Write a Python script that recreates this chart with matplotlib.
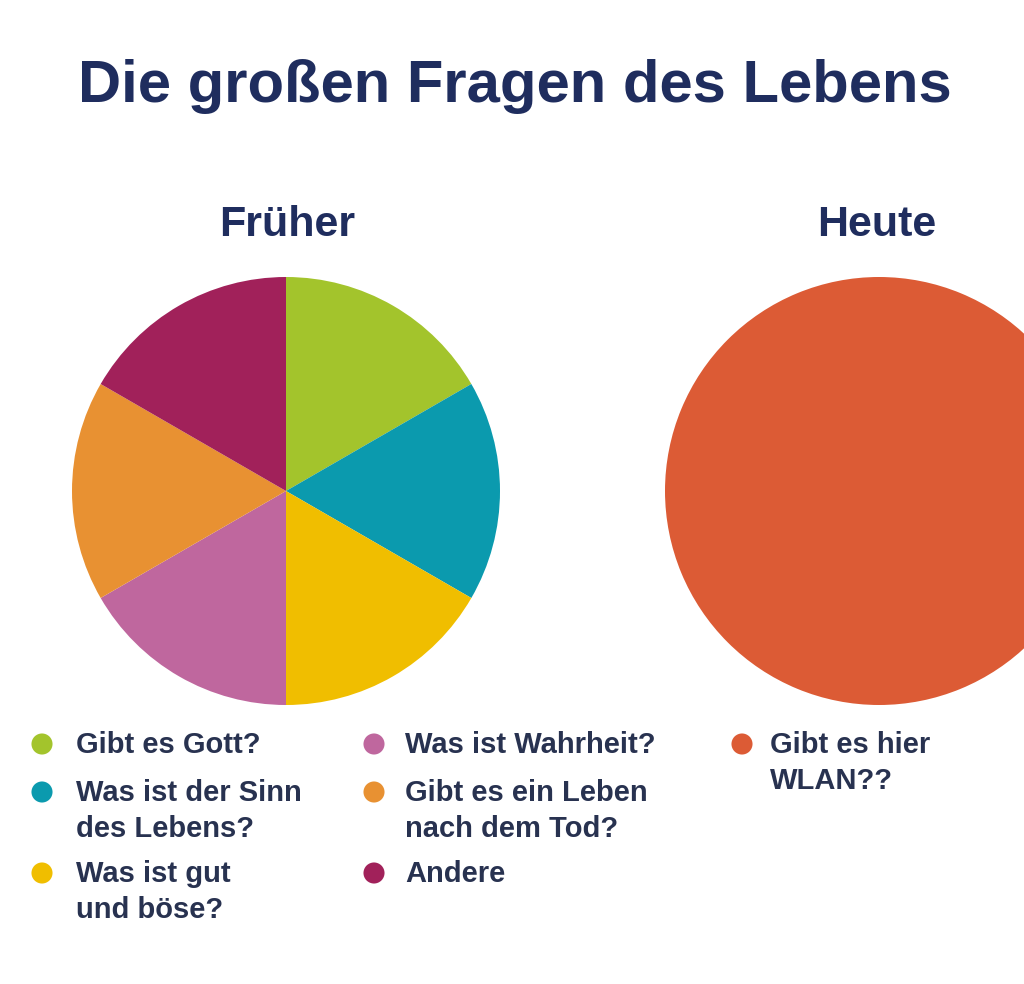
import matplotlib
matplotlib.use("Agg")
import matplotlib.pyplot as plt

plt.rcParams['font.family'] = ['Liberation Sans', 'DejaVu Sans']

# --- Daten ---
titel = "Die großen Fragen des Lebens"
frueher_labels = ["Gibt es Gott?", "Was ist der Sinn\ndes Lebens?", "Was ist gut\nund böse?",
                  "Was ist Wahrheit?", "Gibt es ein Leben\nnach dem Tod?", "Andere"]
frueher_werte = [1, 1, 1, 1, 1, 1]
frueher_farben = ["#A3C42C", "#0B9AAE", "#F0BE00", "#BF679E", "#E89132", "#A1215A"]

heute_labels = ["Gibt es hier\nWLAN??"]
heute_werte = [1]
heute_farben = ["#DC5B35"]

navy = "#1F2D5E"
text_farbe = "#283250"

W, H = 1024, 984
fig = plt.figure(figsize=(W / 100, H / 100), dpi=100)
fig.patch.set_facecolor("white")


def pie_axes(cx, cy, r):
    # Achse in Pixelkoordinaten (y von oben)
    return fig.add_axes([(cx - r) / W, (H - cy - r) / H, 2 * r / W, 2 * r / H])


# Kuchen "Früher"
ax1 = pie_axes(286, 491, 214)
ax1.pie(frueher_werte, colors=frueher_farben, startangle=90, counterclock=False,
        wedgeprops=dict(linewidth=0))
ax1.set_xlim(-1, 1)
ax1.set_ylim(-1, 1)
ax1.set_aspect("equal")
ax1.axis("off")

# Kuchen "Heute" (rechts angeschnitten)
ax2 = pie_axes(879, 491, 214)
ax2.pie(heute_werte, colors=heute_farben, startangle=90, wedgeprops=dict(linewidth=0))
ax2.set_xlim(-1, 1)
ax2.set_ylim(-1, 1)
ax2.set_aspect("equal")
ax2.axis("off")

# Overlay für Texte und Legende
ov = fig.add_axes([0, 0, 1, 1], zorder=5)
ov.set_xlim(0, W)
ov.set_ylim(H, 0)
ov.axis("off")

ov.text(515, 86, titel, ha="center", va="center", fontsize=43, fontweight="bold", color=navy)
ov.text(287, 225, "Früher", ha="center", va="center", fontsize=31, fontweight="bold", color=navy)
ov.text(877, 225, "Heute", ha="center", va="center", fontsize=31, fontweight="bold", color=navy)

# Legende
reihen_y = [744, 792, 873]
spalten = [(42, 76), (374, 405), (742, 770)]


def legende(labels, farben, spalte):
    mx, tx = spalten[spalte]
    for i, (lab, col) in enumerate(zip(labels, farben)):
        y = reihen_y[i]
        ov.scatter([mx], [y], s=230, color=col, edgecolors="none")
        ov.text(tx, y - 13, lab, ha="left", va="top", fontsize=21, fontweight="bold",
                color=text_farbe, linespacing=1.38)


legende(frueher_labels[:3], frueher_farben[:3], 0)
legende(frueher_labels[3:], frueher_farben[3:], 1)
legende(heute_labels, heute_farben, 2)

fig.savefig("out.png", dpi=100, facecolor="white")
